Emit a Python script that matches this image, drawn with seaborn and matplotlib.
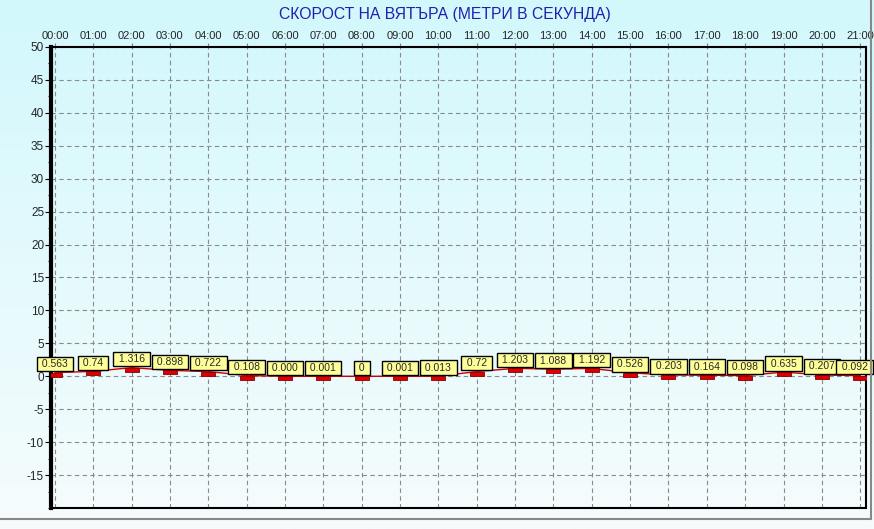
import numpy as np
import pandas as pd
import seaborn as sns
import matplotlib.pyplot as plt
from matplotlib.path import Path
from matplotlib.lines import Line2D

# data
hours = ["00:00", "01:00", "02:00", "03:00", "04:00", "05:00", "06:00", "07:00",
         "08:00", "09:00", "10:00", "11:00", "12:00", "13:00", "14:00", "15:00",
         "16:00", "17:00", "18:00", "19:00", "20:00", "21:00"]
wind = [0.563, 0.74, 1.316, 0.898, 0.722, 0.108, 0.000, 0.001, 0, 0.001, 0.013,
        0.72, 1.203, 1.088, 1.192, 0.526, 0.203, 0.164, 0.098, 0.635, 0.207, 0.092]
wind_labels = ["0.563", "0.74", "1.316", "0.898", "0.722", "0.108", "0.000", "0.001",
               "0", "0.001", "0.013", "0.72", "1.203", "1.088", "1.192", "0.526",
               "0.203", "0.164", "0.098", "0.635", "0.207", "0.092"]
title = "СКОРОСТ НА ВЯТЪРА (МЕТРИ В СЕКУНДА)"

df = pd.DataFrame({"pos": np.arange(len(hours)), "wind": wind})

sns.set_style("white")
plt.rcParams["font.family"] = ["Liberation Sans", "DejaVu Sans"]
plt.rcParams["axes.unicode_minus"] = False

fig = plt.figure(figsize=(8.74, 5.29), dpi=100)

# gradient background for whole figure
bg = fig.add_axes([0, 0, 1, 1], zorder=-10)
grad = np.linspace(0, 1, 256).reshape(-1, 1)
top_c = np.array([210, 248, 252]) / 255
bot_c = np.array([246, 252, 253]) / 255
img = top_c * (1 - grad[:, :, None]) + bot_c * grad[:, :, None]
bg.imshow(img, aspect="auto", extent=[0, 1, 0, 1])
bg.set_axis_off()

ax = fig.add_axes([0.0584, 0.0397, 0.9324, 0.8715])
ax.set_facecolor("none")

sns.lineplot(data=df, x="pos", y="wind", ax=ax, color="#cc0000", linewidth=1, zorder=3)

# small red rectangles hanging below each value
rect = Path([(-1, 0), (1, 0), (1, -0.62), (-1, -0.62), (-1, 0)],
            [Path.MOVETO, Path.LINETO, Path.LINETO, Path.LINETO, Path.CLOSEPOLY])
sns.scatterplot(data=df, x="pos", y="wind", ax=ax, marker=rect, s=90,
                color="#dd0000", edgecolor="#880000", linewidth=0.6, zorder=4)

last = len(wind) - 1
for x, y, lab in zip(df["pos"], wind, wind_labels):
    dx = -4 if x == last else 0  # keep the last box inside the picture
    ax.annotate(" " + lab + " ", (x, y), xytext=(dx, 2.5), textcoords="offset points",
                ha="center", va="bottom", fontsize=7.5, zorder=5, annotation_clip=False,
                bbox=dict(boxstyle="square,pad=0.22", fc="#ffff99", ec="black", lw=1))

ax.set_xlim(-0.1, 21.15)
ax.set_ylim(-20, 50)
ax.set_xticks(df["pos"])
ax.set_xticklabels(hours)
ax.xaxis.tick_top()
ax.set_yticks(np.arange(-15, 51, 5))
ax.set_yticks(np.arange(-20, 50, 2.5), minor=True)
ax.tick_params(axis="x", which="both", length=3, color="gray", labelsize=8, pad=1)
ax.tick_params(axis="y", which="major", length=4, color="black", labelsize=8.5, pad=1, left=True)
ax.tick_params(axis="y", which="minor", length=2, color="black", left=True)
ax.set_xlabel("")
ax.set_ylabel("")

ax.grid(True, color="#8a8a8a", linestyle=(0, (4, 3)), linewidth=0.8)
for side, sp in ax.spines.items():
    sp.set_visible(True)
    sp.set_color("black")
    sp.set_linewidth(1.5)
ax.spines["left"].set_linewidth(3)

fig.text(0.509, 0.972, title, ha="center", va="center", fontsize=11.3, color="#2020b0")

# panel frame lines (right and bottom)
fig.add_artist(Line2D([0, 0.9966], [1 - 519 / 529] * 2, color="#888888", lw=1.5,
                      transform=fig.transFigure))
fig.add_artist(Line2D([0.9966, 0.9966], [1 - 519 / 529, 1], color="#888888", lw=1.5,
                      transform=fig.transFigure))

fig.savefig("out.png", dpi=100)
